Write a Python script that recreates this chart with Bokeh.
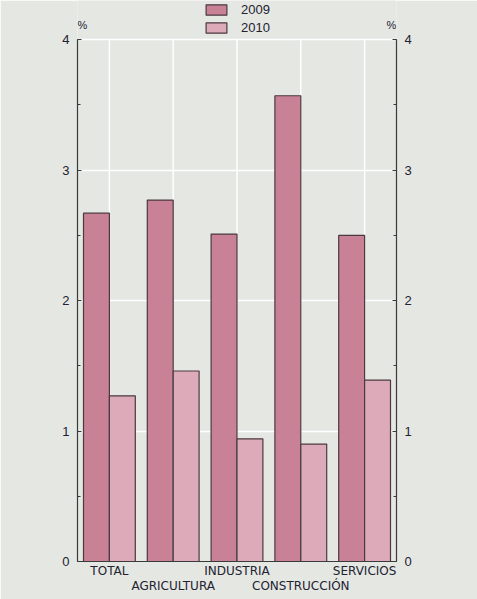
from bokeh.plotting import figure
from bokeh.models import Range1d, LinearAxis, FixedTicker, SingleIntervalTicker, Legend, LegendItem, Label
from bokeh.embed import file_html
from bokeh.resources import INLINE

categories = ["TOTAL", "AGRICULTURA", "INDUSTRIA", "CONSTRUCCIÓN", "SERVICIOS"]
values_2009 = [2.67, 2.77, 2.51, 3.57, 2.50]
values_2010 = [1.27, 1.46, 0.94, 0.90, 1.39]
series_names = ["2009", "2010"]

bg = "#e5e7e3"
c2009 = "#c98196"
c2010 = "#dcaab8"
edge = "#4a3a40"
txt = "#222230"

centers = [i + 0.5 for i in range(len(categories))]
bw = 0.406
ymax = 4

# frame reaches the top of the page so legend and "%" marks can sit inside it
p = figure(width=477, height=599, x_range=Range1d(0, 5), y_range=Range1d(0, 4.3),
           output_backend="svg", toolbar_location=None,
           min_border_left=77, min_border_right=81, min_border_top=0, min_border_bottom=38)
p.title.visible = False
p.background_fill_color = bg
p.border_fill_color = bg
p.outline_line_color = None

# grid
p.xgrid.visible = False
p.segment(x0=centers, y0=[0] * len(centers), x1=centers, y1=[ymax] * len(centers),
          line_color="white", line_width=1.5)
p.ygrid.ticker = SingleIntervalTicker(interval=1)
p.ygrid.grid_line_color = "white"
p.ygrid.grid_line_width = 1.5

r1 = p.vbar(x=[c - bw / 2 for c in centers], top=values_2009, width=bw,
            fill_color=c2009, line_color=edge, line_width=1.2)
r2 = p.vbar(x=[c + bw / 2 for c in centers], top=values_2010, width=bw,
            fill_color=c2010, line_color=edge, line_width=1.2)

# y axes
def style_y(ax):
    ax.ticker = SingleIntervalTicker(interval=1, num_minor_ticks=2)
    ax.bounds = (0, ymax)
    ax.axis_line_color = "#3a3a3a"
    ax.axis_line_width = 1.2
    ax.major_tick_in = 4
    ax.major_tick_out = 0
    ax.minor_tick_in = 3
    ax.minor_tick_out = 0
    ax.major_tick_line_color = "#3a3a3a"
    ax.minor_tick_line_color = "#3a3a3a"
    ax.major_label_standoff = 8
    ax.major_label_text_font = "Liberation Sans"
    ax.major_label_text_font_size = "13px"
    ax.major_label_text_color = txt

style_y(p.yaxis[0])
right_ax = LinearAxis()
style_y(right_ax)
p.add_layout(right_ax, "right")

# x axes: staggered labels on two rows
def style_x(ax, keep):
    ax.ticker = FixedTicker(ticks=centers)
    ax.major_label_overrides = {c: (n if i % 2 == keep else "")
                                for i, (c, n) in enumerate(zip(centers, categories))}
    ax.major_tick_line_color = None
    ax.minor_tick_line_color = None
    ax.major_tick_in = 0
    ax.major_tick_out = 0
    ax.major_label_text_font = "DejaVu Sans"
    ax.major_label_text_font_size = "12px"
    ax.major_label_text_color = txt

xa = p.xaxis[0]
style_x(xa, 0)
xa.axis_line_color = "#3a3a3a"
xa.axis_line_width = 1.2
xa.major_label_standoff = 2

xa2 = LinearAxis()
style_x(xa2, 1)
xa2.axis_line_color = None
xa2.major_label_standoff = -2
p.add_layout(xa2, "below")

# "%" marks above both y axes
for xv, dx in ((0, 5), (5, -5)):
    p.add_layout(Label(x=xv, y=ymax, x_offset=dx, y_offset=9, text="%", text_align="center",
                       text_baseline="bottom", text_font="Liberation Sans",
                       text_font_size="11px", text_color=txt))

legend = Legend(items=[LegendItem(label=series_names[0], renderers=[r1]),
                       LegendItem(label=series_names[1], renderers=[r2])],
                location=(126, 526), orientation="vertical")
legend.background_fill_alpha = 0
legend.border_line_color = None
legend.padding = 0
legend.margin = 0
legend.spacing = 3
legend.glyph_width = 26
legend.glyph_height = 13
legend.label_height = 13
legend.label_standoff = 12
legend.label_text_font = "Liberation Sans"
legend.label_text_font_size = "13px"
legend.label_text_color = txt
p.add_layout(legend, "center")

open("out.html", "w").write(file_html(p, INLINE))
